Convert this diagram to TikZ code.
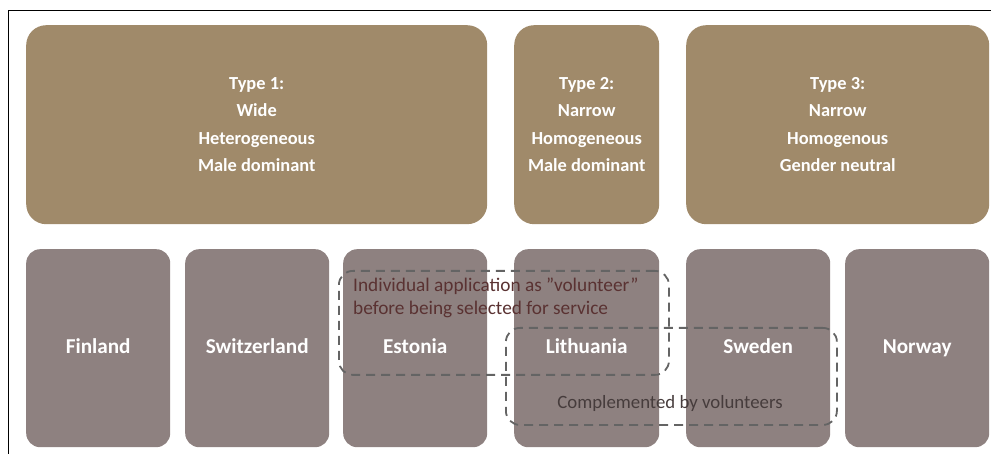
\documentclass[tikz,border=0pt]{standalone}
\usepackage{fontspec}
\setmainfont{Carlito}
\definecolor{tan}{RGB}{160,138,106}
\definecolor{mauve}{RGB}{142,129,128}
\definecolor{dashgray}{RGB}{100,100,100}
\definecolor{redtext}{RGB}{90,50,50}
\definecolor{graytext}{RGB}{70,60,60}
\begin{document}
\begin{tikzpicture}[x=1pt,y=-1pt,
  typebox/.style={fill=tan,rounded corners=20pt,inner sep=0pt,anchor=north west,
     text=white,align=center,font=\fontsize{18.4}{27.4}\selectfont\bfseries},
  countrybox/.style={fill=mauve,rounded corners=14pt,inner sep=0pt,anchor=north west,minimum height=198pt},
  countrylabel/.style={text=white,font=\fontsize{21.2}{24}\selectfont\bfseries,anchor=base,inner sep=0pt},
  dashbox/.style={draw=dashgray,line width=1.8pt,dash pattern=on 9pt off 6pt,rounded corners=14pt,inner sep=0pt,anchor=north west}
]
\useasboundingbox (0,0) rectangle (991,454);
\draw[line width=1pt] (8,454) -- (8,11) -- (991,11);
% top row
\node[typebox,minimum width=461pt,minimum height=199pt] (t1) at (26,25) {Type 1:\\Wide\\Heterogeneous\\Male dominant};
\node[typebox,minimum width=145pt,minimum height=199pt] (t2) at (514,25) {Type 2:\\Narrow\\Homogeneous\\Male dominant};
\node[typebox,minimum width=303pt,minimum height=199pt] (t3) at (686,25) {Type 3:\\Narrow\\Homogenous\\Gender neutral};
% bottom row
\node[countrybox,minimum width=144pt] (fi) at (26,249) {};
\node[countrybox,minimum width=144pt] (ch) at (185,249) {};
\node[countrybox,minimum width=144pt] (ee) at (343,249) {};
\node[countrybox,minimum width=145pt] (lt) at (514,249) {};
\node[countrybox,minimum width=144pt] (se) at (686,249) {};
\node[countrybox,minimum width=144pt] (no) at (845,249) {};
\foreach \n/\t in {fi/Finland,ch/Switzerland,ee/Estonia,lt/Lithuania,se/Sweden,no/Norway}
  \node[countrylabel] (\n l) at (\n.center |- 0,354) {\t};
% dashed groups
\node[dashbox,minimum width=330pt,minimum height=104pt] (d1) at (338,270) {};
\node[dashbox,minimum width=331pt,minimum height=97pt] (d2) at (505,327) {};
\node[anchor=base west,align=left,inner sep=0pt,text=redtext,font=\fontsize{19.3}{23}\selectfont] (d1t) at (353,315) {Individual application as ”volunteer”\\before being selected for service};
\node[anchor=base,inner sep=0pt,text=graytext,font=\fontsize{18.8}{22}\selectfont] (d2t) at (670,408) {Complemented by volunteers};
\end{tikzpicture}
\end{document}
